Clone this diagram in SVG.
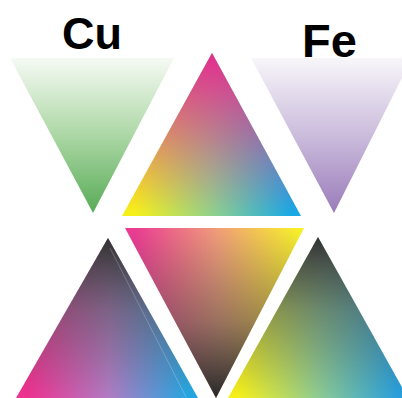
<svg xmlns="http://www.w3.org/2000/svg" width="402" height="398" viewBox="0 0 402 398">
  <style>
    .lbl { font-family: "Liberation Sans", Arial, sans-serif; font-weight: bold; fill: #000; }
  </style>
  <defs>
    <linearGradient id="cuG" gradientUnits="userSpaceOnUse" x1="0" y1="58" x2="0" y2="213">
      <stop offset="0" stop-color="#f6faf4"/>
      <stop offset="0.5" stop-color="#acd7a5"/>
      <stop offset="1" stop-color="#58ab57"/>
    </linearGradient>
    <linearGradient id="feG" gradientUnits="userSpaceOnUse" x1="0" y1="58" x2="0" y2="213">
      <stop offset="0" stop-color="#f8f6fa"/>
      <stop offset="0.5" stop-color="#cbbcdc"/>
      <stop offset="1" stop-color="#9a7cba"/>
    </linearGradient>
    <linearGradient id="ctBase" gradientUnits="userSpaceOnUse" x1="135" y1="0" x2="292" y2="0">
      <stop offset="0" stop-color="#f6f01a"/>
      <stop offset="0.5" stop-color="#8fd08e"/>
      <stop offset="1" stop-color="#18a8e6"/>
    </linearGradient>
    <linearGradient id="ctTop" gradientUnits="userSpaceOnUse" x1="212" y1="55" x2="211" y2="214">
      <stop offset="0" stop-color="#e42e8e" stop-opacity="1"/>
      <stop offset="0.5" stop-color="#e42e8e" stop-opacity="0.5"/>
      <stop offset="1" stop-color="#e42e8e" stop-opacity="0"/>
    </linearGradient>
    <linearGradient id="blBase" gradientUnits="userSpaceOnUse" x1="28" y1="0" x2="190" y2="0">
      <stop offset="0" stop-color="#ee3290"/>
      <stop offset="0.5" stop-color="#b07cc4"/>
      <stop offset="1" stop-color="#22a8e4"/>
    </linearGradient>
    <linearGradient id="blTop" gradientUnits="userSpaceOnUse" x1="108" y1="240" x2="106" y2="398">
      <stop offset="0" stop-color="#333333" stop-opacity="1"/>
      <stop offset="0.45" stop-color="#4a4a4a" stop-opacity="0.5"/>
      <stop offset="1" stop-color="#4a4a4a" stop-opacity="0"/>
    </linearGradient>
    <linearGradient id="bcBase" gradientUnits="userSpaceOnUse" x1="135" y1="0" x2="298" y2="0">
      <stop offset="0" stop-color="#ea3c92"/>
      <stop offset="0.5" stop-color="#f09c7a"/>
      <stop offset="1" stop-color="#f8f02a"/>
    </linearGradient>
    <linearGradient id="bcBot" gradientUnits="userSpaceOnUse" x1="216" y1="396" x2="214" y2="230">
      <stop offset="0" stop-color="#2a2a2a" stop-opacity="1"/>
      <stop offset="0.45" stop-color="#444444" stop-opacity="0.5"/>
      <stop offset="1" stop-color="#444444" stop-opacity="0"/>
    </linearGradient>
    <linearGradient id="brBase" gradientUnits="userSpaceOnUse" x1="238" y1="0" x2="398" y2="0">
      <stop offset="0" stop-color="#f6f01a"/>
      <stop offset="0.5" stop-color="#8ecc92"/>
      <stop offset="1" stop-color="#28a0de"/>
    </linearGradient>
    <linearGradient id="brTop" gradientUnits="userSpaceOnUse" x1="318" y1="240" x2="316" y2="398">
      <stop offset="0" stop-color="#363636" stop-opacity="1"/>
      <stop offset="0.45" stop-color="#4a4a4a" stop-opacity="0.5"/>
      <stop offset="1" stop-color="#4a4a4a" stop-opacity="0"/>
    </linearGradient>
  </defs>

  <rect width="402" height="398" fill="#ffffff"/>

  <g id="cu">
    <polygon points="10,58 174,58 93,213" fill="url(#cuG)"/>
    <text class="lbl" x="62" y="49" font-size="45">Cu</text>
  </g>

  <g id="fe">
    <polygon points="251,58 412,58 334,213" fill="url(#feG)"/>
    <text class="lbl" x="302" y="57" font-size="47">Fe</text>
  </g>

  <g id="center-top">
    <polygon points="212,53 122,216 301,216" fill="url(#ctBase)"/>
    <polygon points="212,53 122,216 301,216" fill="url(#ctTop)"/>
  </g>

  <g id="bottom-left">
    <polygon points="108,238 16,398 198,398" fill="url(#blBase)"/>
    <polygon points="108,238 16,398 198,398" fill="url(#blTop)"/>
    <line x1="110" y1="248" x2="186" y2="397" stroke="#ffffff" stroke-opacity="0.22" stroke-width="1"/>
  </g>

  <g id="bottom-center">
    <polygon points="125,228 304,228 216,398" fill="url(#bcBase)"/>
    <polygon points="125,228 304,228 216,398" fill="url(#bcBot)"/>
  </g>

  <g id="bottom-right">
    <polygon points="318,237 228,398 408,398" fill="url(#brBase)"/>
    <polygon points="318,237 228,398 408,398" fill="url(#brTop)"/>
  </g>

  <g id="connectors"/>
</svg>
